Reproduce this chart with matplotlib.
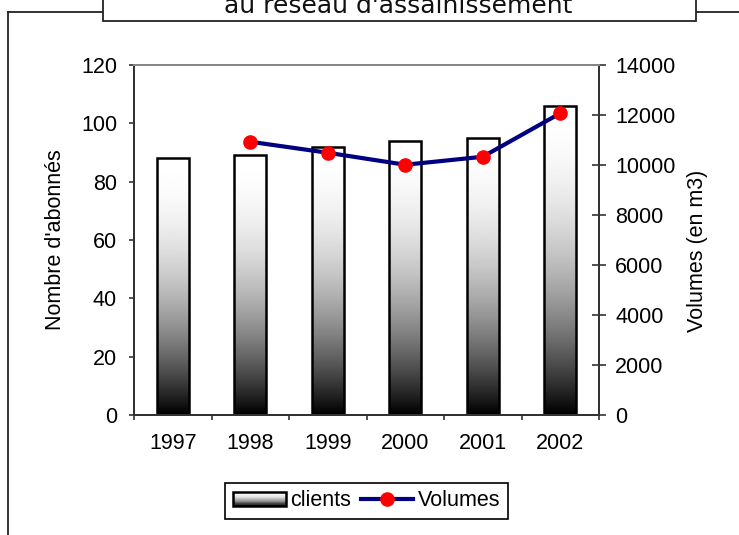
import numpy as np
import matplotlib
matplotlib.use('Agg')
import matplotlib.pyplot as plt
from matplotlib.patches import Rectangle
from matplotlib.lines import Line2D
from matplotlib.legend_handler import HandlerBase

plt.rcParams['font.family'] = ['Liberation Sans', 'DejaVu Sans']

# data
years = ['1997', '1998', '1999', '2000', '2001', '2002']
clients = [88, 89, 92, 94, 95, 106]
volumes = [np.nan, 10930, 10490, 10010, 10330, 12070]
left_ticks = [0, 20, 40, 60, 80, 100, 120]
right_ticks = [0, 2000, 4000, 6000, 8000, 10000, 12000, 14000]

W, H = 739, 535
FS = 15.5
fig = plt.figure(figsize=(W / 100, H / 100), dpi=100)
ax = fig.add_axes([134 / W, 1 - 415 / H, (599 - 134) / W, (415 - 65) / H])
ax2 = ax.twinx()

# vertical gradient: black at bottom, white at top
t = np.linspace(0, 1, 256)
grad = (1 - (1 - t) ** 2).reshape(-1, 1)

x = np.arange(len(years))
bars = ax.bar(x, clients, width=0.41, facecolor='none', edgecolor='black',
              linewidth=1.8, zorder=3)
for b in bars:
    ax.imshow(grad, cmap='gray', vmin=0, vmax=1, origin='lower', aspect='auto',
              extent=[b.get_x(), b.get_x() + b.get_width(), 0, b.get_height()],
              zorder=2, interpolation='bilinear')

ax2.plot(x, volumes, color='#000080', linewidth=3.0, marker='o',
         markersize=9.5, markerfacecolor='#ff0000', markeredgecolor='#ff0000',
         zorder=4)

ax.set_xlim(-0.5, len(years) - 0.5)
ax.set_ylim(0, 120)
ax2.set_ylim(0, 14000)
ax.set_yticks(left_ticks)
ax2.set_yticks(right_ticks)

ax.set_xticks(np.arange(len(years) + 1) - 0.5)
ax.set_xticklabels([])
ax.set_xticks(x, minor=True)
ax.set_xticklabels(years, minor=True)
ax.tick_params(axis='x', which='minor', length=0, pad=13, labelsize=FS)
ax.tick_params(axis='x', which='major', direction='out', length=3.6, width=1.2,
               color='#333333')
ax.tick_params(axis='y', direction='out', length=3.6, width=1.2, pad=8.6,
               labelsize=FS, color='#333333')
ax2.tick_params(axis='y', direction='inout', length=9.4, width=1.2, pad=7,
                labelsize=FS, color='#333333')

for a in (ax, ax2):
    for s in ('left', 'right', 'bottom'):
        a.spines[s].set_color('#333333')
        a.spines[s].set_linewidth(1.4)
    a.spines['top'].set_color('#888888')
    a.spines['top'].set_linewidth(1.4)

ax.set_ylabel("Nombre d'abonnés", fontsize=FS)
ax.yaxis.set_label_coords(-0.147, 0.5)
ax2.set_ylabel('Volumes (en m3)', fontsize=FS)
ax2.yaxis.set_label_coords(1.19, 0.47)


class GradientHandler(HandlerBase):
    def create_artists(self, legend, orig_handle, xdescent, ydescent,
                       width, height, fontsize, trans):
        n = 24
        arts = []
        for i in range(n):
            v = 1 - (1 - (i + 0.5) / n) ** 2
            arts.append(Rectangle((-xdescent, -ydescent + i * height / n),
                                  width, height / n, facecolor=str(v),
                                  edgecolor='none', transform=trans))
        arts.append(Rectangle((-xdescent, -ydescent), width, height,
                              facecolor='none', edgecolor='black',
                              linewidth=1.8, transform=trans))
        return arts


bar_handle = Rectangle((0, 0), 1, 1)
line_handle = Line2D([], [], color='#000080', linewidth=3.0, marker='o',
                     markersize=9.5, markerfacecolor='#ff0000',
                     markeredgecolor='#ff0000')
leg = fig.legend([bar_handle, line_handle], ['clients', 'Volumes'],
                 handler_map={bar_handle: GradientHandler()},
                 loc='center', bbox_to_anchor=(366.5 / W, 1 - 501 / H), ncol=2,
                 fontsize=FS, frameon=True, fancybox=False, framealpha=1,
                 edgecolor='black', handlelength=2.45, handleheight=0.6,
                 handletextpad=0.2, columnspacing=0.45, borderpad=0.35,
                 borderaxespad=0, numpoints=1)
leg.get_frame().set_linewidth(1.2)

# outer frame and title box
fig.add_artist(Line2D([8 / W, 8 / W], [0, 1 - 12 / H], color='#222222',
                      linewidth=1.3, transform=fig.transFigure))
fig.add_artist(Line2D([8 / W, 1], [1 - 12 / H, 1 - 12 / H], color='#222222',
                      linewidth=1.3, transform=fig.transFigure))
fig.add_artist(Rectangle((103 / W, 1 - 21 / H), (696 - 103) / W, 40 / H,
                         facecolor='white', edgecolor='#222222', linewidth=1.3,
                         transform=fig.transFigure, zorder=5))
fig.text(398 / W, 1 - 13 / H, "au réseau d'assainissement", ha='center',
         va='baseline', fontsize=18, family='DejaVu Sans', color='#111111',
         zorder=6)

fig.savefig('out.png', dpi=100)
